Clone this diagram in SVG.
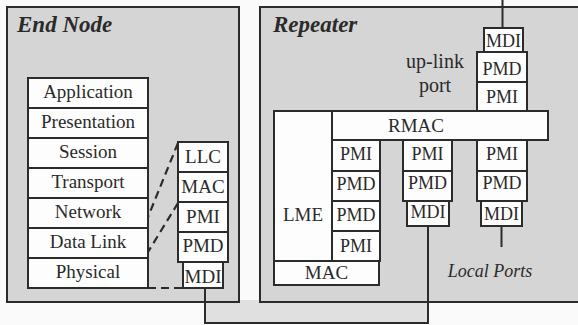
<svg xmlns="http://www.w3.org/2000/svg" width="578" height="325" viewBox="0 0 578 325">
<style>
.panel{fill:#d5d5d5;stroke:#2b2b2b;stroke-width:2}
.box{fill:#fdfdfd;stroke:#2b2b2b;stroke-width:2}
.ln{fill:none;stroke:#2b2b2b;stroke-width:2}
.dash{fill:none;stroke:#2b2b2b;stroke-width:2.2;stroke-dasharray:8 5}
text{font-family:"Liberation Serif","Times New Roman",serif;fill:#2a2a2a}
.l{font-size:19px;text-anchor:middle}
.s{font-size:18px;text-anchor:middle}
.t{font-size:23px;font-style:italic;font-weight:bold}
.i{font-size:18px;font-style:italic;text-anchor:middle}
.u{font-size:20px;text-anchor:middle}
</style>
<rect width="578" height="325" fill="#fafafa"/>
<g id="bar">
<rect x="205" y="300" width="223" height="23" fill="#e0e0e0"/>
</g>
<g id="end-node">
<rect class="panel" x="7" y="7" width="232" height="295"/>
<text class="t" x="17" y="32">End Node</text>
</g>
<g id="repeater">
<rect class="panel" x="260" y="7" width="330" height="295"/>
<text class="t" x="273" y="32">Repeater</text>
<text class="u" x="435" y="68">up-link</text>
<text class="u" x="435" y="92">port</text>
<text class="i" x="490" y="277">Local Ports</text>
</g>
<g id="connectors">
<path class="ln" d="M205,288 V323 H428 V226"/>
<path class="ln" d="M502.5,0 V28"/>
<path class="ln" d="M501.5,226 V247"/>
<path class="dash" d="M178,143 L148,217"/>
<path class="dash" d="M178,203 L148,252"/>
<path class="dash" d="M148,288 H183"/>
</g>
<g id="osi-stack">
<g id="application"><rect class="box" x="28" y="78" width="120" height="30"/><text class="l" x="88" y="98">Application</text></g>
<g id="presentation"><rect class="box" x="28" y="108" width="120" height="30"/><text class="l" x="88" y="128">Presentation</text></g>
<g id="session"><rect class="box" x="28" y="138" width="120" height="30"/><text class="l" x="88" y="158">Session</text></g>
<g id="transport"><rect class="box" x="28" y="168" width="120" height="30"/><text class="l" x="88" y="188">Transport</text></g>
<g id="network"><rect class="box" x="28" y="198" width="120" height="30"/><text class="l" x="88" y="218">Network</text></g>
<g id="datalink"><rect class="box" x="28" y="228" width="120" height="30"/><text class="l" x="88" y="248">Data Link</text></g>
<g id="physical"><rect class="box" x="28" y="258" width="120" height="30"/><text class="l" x="88" y="278">Physical</text></g>
</g>
<g id="end-protocols">
<g id="en-llc"><rect class="box" x="178" y="142" width="50" height="30"/><text class="l" x="203" y="163">LLC</text></g>
<g id="en-mac"><rect class="box" x="178" y="172" width="50" height="30"/><text class="l" x="203" y="193">MAC</text></g>
<g id="en-pmi"><rect class="box" x="178" y="202" width="50" height="30"/><text class="l" x="203" y="223">PMI</text></g>
<g id="en-pmd"><rect class="box" x="178" y="232" width="50" height="30"/><text class="l" x="203" y="252">PMD</text></g>
<g id="en-mdi"><rect class="box" x="183" y="262" width="40" height="26"/><text class="l" x="203" y="283">MDI</text></g>
</g>
<g id="uplink">
<g id="up-mdi"><rect class="box" x="484" y="28" width="39" height="24"/><text class="s" x="503.5" y="47">MDI</text></g>
<g id="up-pmd"><rect class="box" x="477" y="52" width="50" height="30"/><text class="s" x="502" y="75">PMD</text></g>
<g id="up-pmi"><rect class="box" x="477" y="82" width="50" height="29"/><text class="s" x="502" y="103">PMI</text></g>
</g>
<g id="rmac"><rect class="box" x="332" y="111" width="216" height="29"/><text class="l" x="416" y="132">RMAC</text></g>
<g id="lme"><rect class="box" x="274" y="111" width="58" height="150"/><text class="l" x="303" y="221">LME</text></g>
<g id="rp-mac"><rect class="box" x="274" y="261" width="105" height="24"/><text class="l" x="326.5" y="279">MAC</text></g>
<g id="port-left">
<rect class="box" x="332" y="140" width="48" height="31"/><text class="s" x="356" y="160">PMI</text>
<rect class="box" x="332" y="171" width="48" height="30"/><text class="s" x="356" y="190">PMD</text>
<rect class="box" x="332" y="201" width="48" height="30"/><text class="s" x="356" y="221">PMD</text>
<rect class="box" x="332" y="231" width="48" height="30"/><text class="s" x="356" y="252">PMI</text>
</g>
<g id="port-middle">
<rect class="box" x="403" y="140" width="49" height="31"/><text class="s" x="427.5" y="160">PMI</text>
<rect class="box" x="403" y="171" width="49" height="30"/><text class="s" x="427.5" y="189">PMD</text>
<rect class="box" x="407" y="201" width="42" height="25"/><text class="s" x="428" y="218">MDI</text>
</g>
<g id="port-right">
<rect class="box" x="477" y="140" width="50" height="31"/><text class="s" x="502" y="160">PMI</text>
<rect class="box" x="477" y="171" width="50" height="30"/><text class="s" x="502" y="189">PMD</text>
<rect class="box" x="481" y="201" width="41" height="25"/><text class="s" x="501.5" y="220">MDI</text>
</g>
</svg>
